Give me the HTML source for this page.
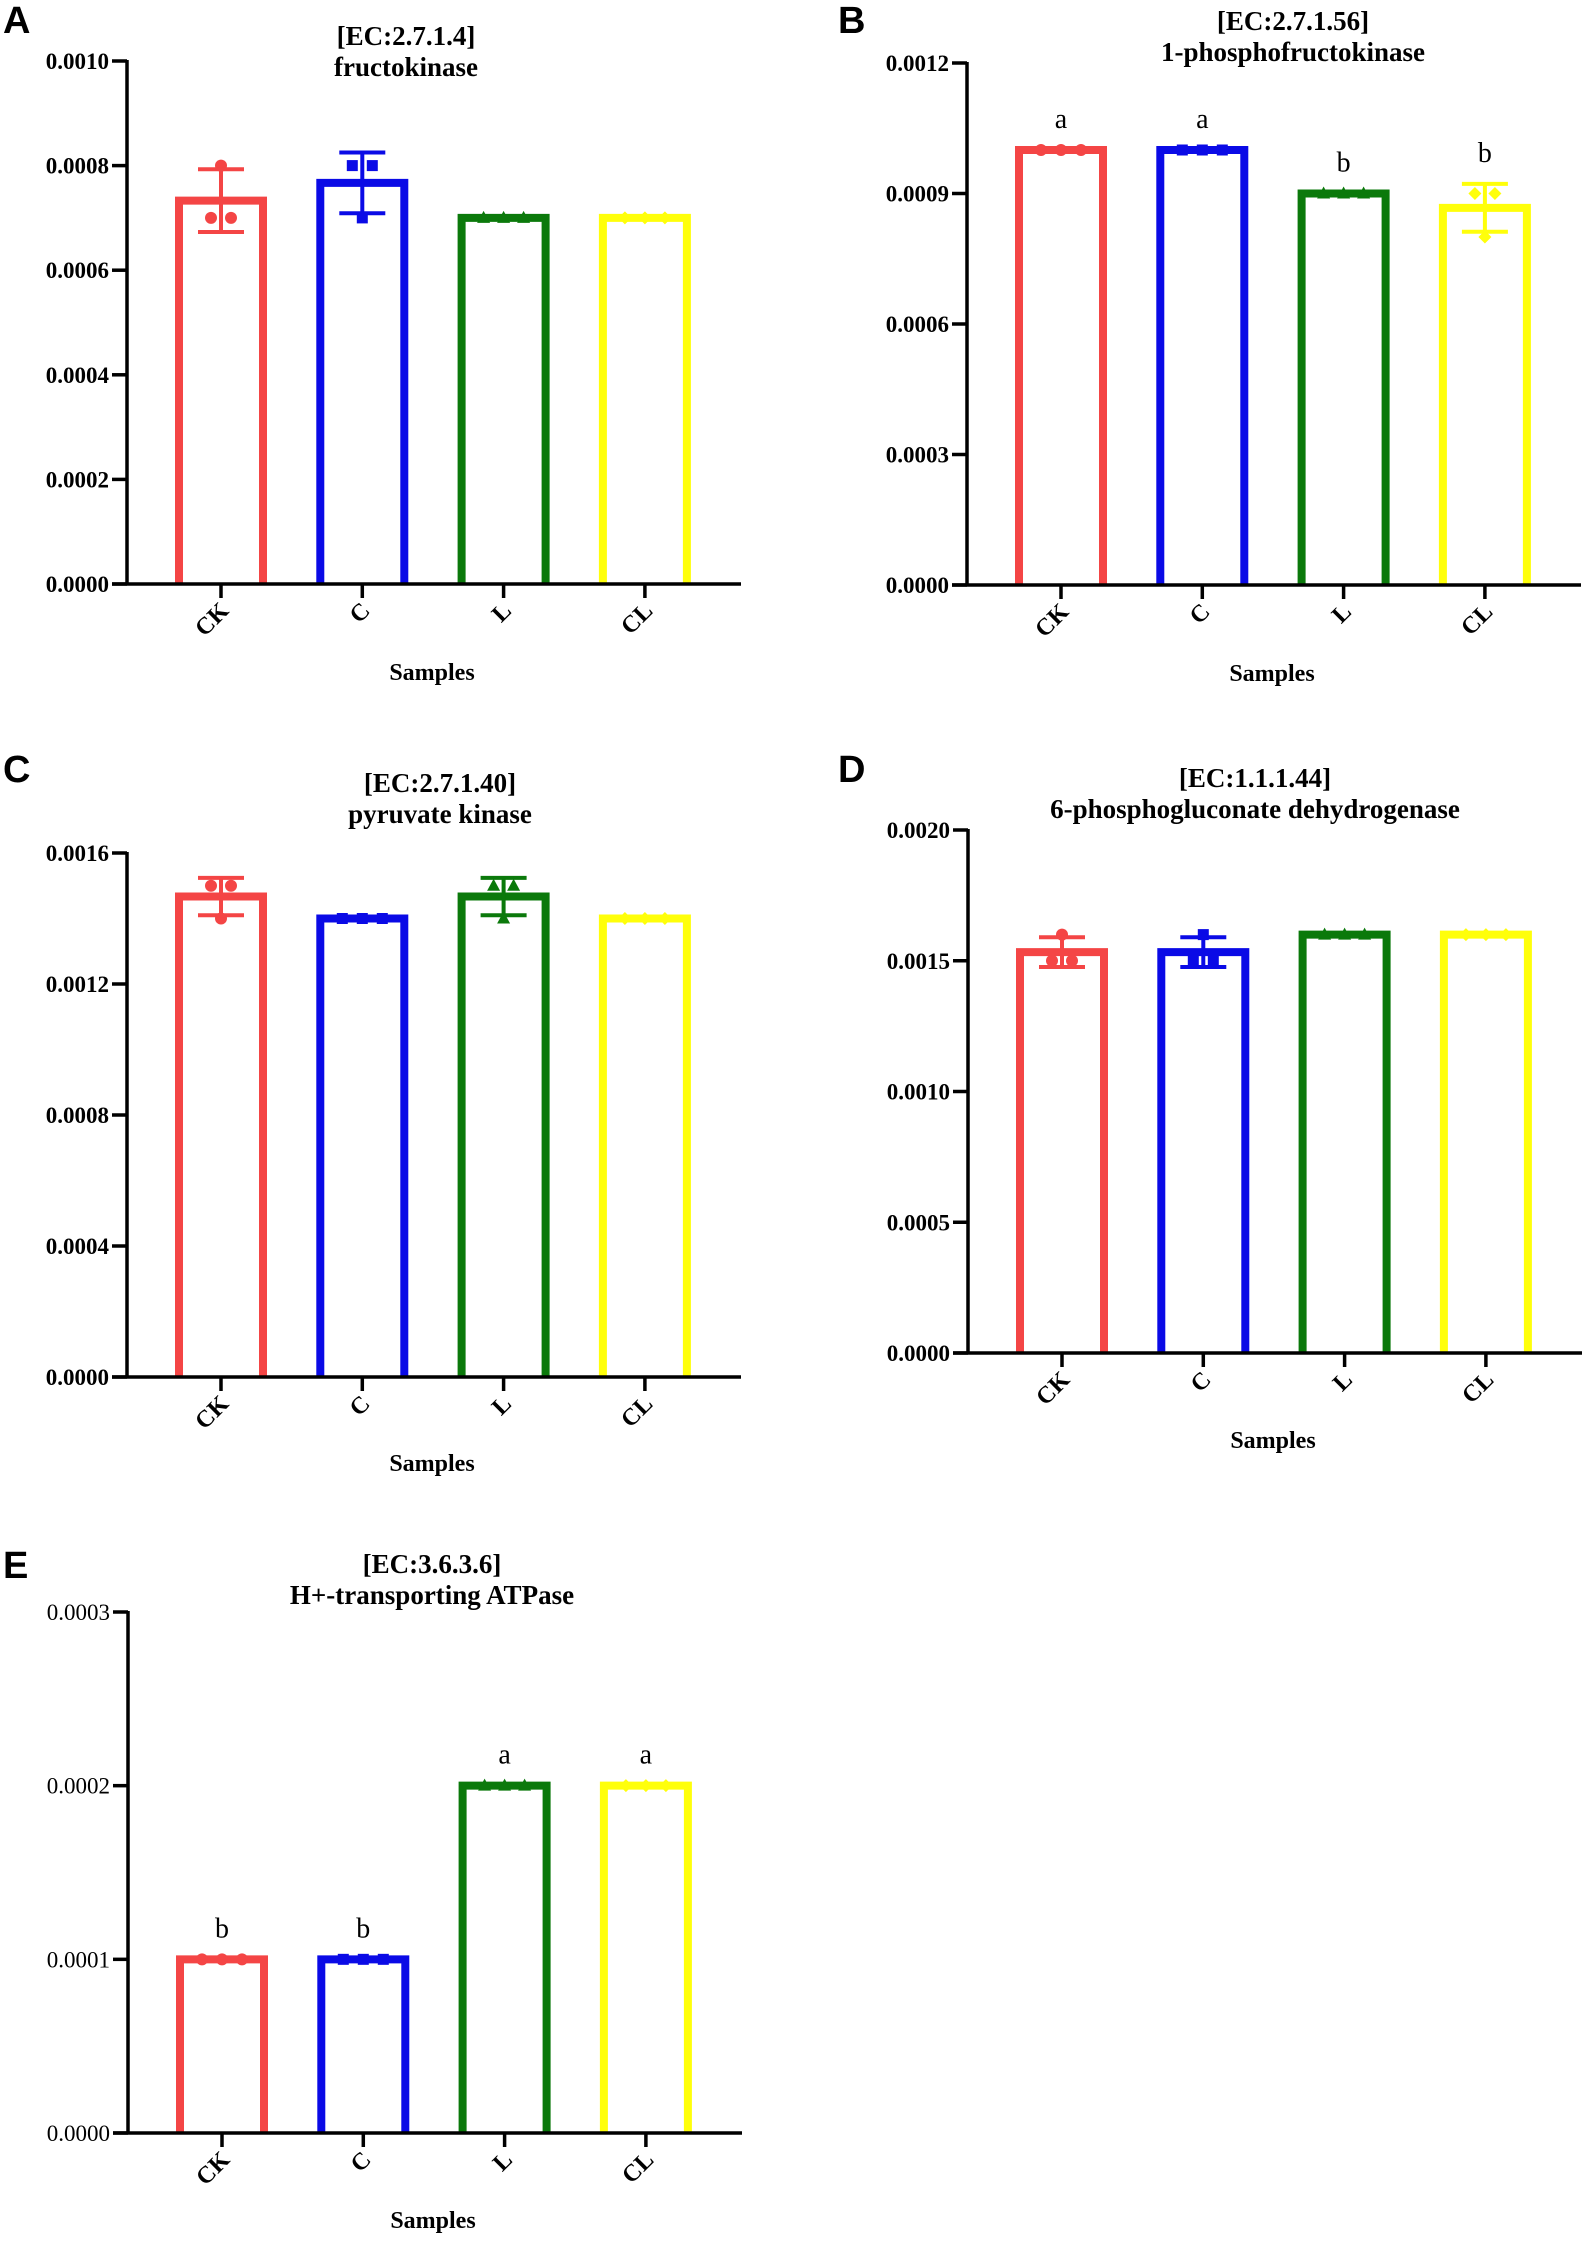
<!DOCTYPE html>
<html><head><meta charset="utf-8"><style>
html,body{margin:0;padding:0;background:#fff;}
svg{display:block;}
.tl{font-family:"Liberation Serif",serif;font-size:23px;}
.tt{font-family:"Liberation Serif",serif;font-weight:bold;font-size:27px;}
.xl{font-family:"Liberation Serif",serif;font-weight:bold;font-size:24px;}
.pl{font-family:"Liberation Sans",Arial,sans-serif;font-weight:bold;font-size:38px;}
.sg{font-family:"Liberation Serif",serif;font-size:28px;}
</style></head><body>
<svg id="fig" width="1594" height="2244" viewBox="0 0 1594 2244" xmlns="http://www.w3.org/2000/svg"></svg>
<script>
const categories = ["CK","C","L","CL"];
const colors = ["#f44545","#0a0ae6","#0b790b","#ffff0a"];
// Panel A
const aMeans = [0.000733,0.000767,0.0007,0.0007];
const aErr = [0.00006,0.000058,0,0];
const aPts = [[0.0008,0.0007,0.0007],[0.0008,0.0008,0.0007],[0.0007,0.0007,0.0007],[0.0007,0.0007,0.0007]];
const aTicks = ["0.0000","0.0002","0.0004","0.0006","0.0008","0.0010"];
const aLetters = ["","","",""];
// Panel B
const bMeans = [0.001,0.001,0.0009,0.000867];
const bErr = [0,0,0,0.000055];
const bPts = [[0.001,0.001,0.001],[0.001,0.001,0.001],[0.0009,0.0009,0.0009],[0.0009,0.0009,0.0008]];
const bTicks = ["0.0000","0.0003","0.0006","0.0009","0.0012"];
const bLetters = ["a","a","b","b"];
// Panel C
const cMeans = [0.001467,0.0014,0.001467,0.0014];
const cErr = [0.000057,0,0.000057,0];
const cPts = [[0.0015,0.0015,0.0014],[0.0014,0.0014,0.0014],[0.0015,0.0015,0.0014],[0.0014,0.0014,0.0014]];
const cTicks = ["0.0000","0.0004","0.0008","0.0012","0.0016"];
const cLetters = ["","","",""];
// Panel D
const dMeans = [0.001533,0.001533,0.0016,0.0016];
const dErr = [0.000057,0.000057,0,0];
const dPts = [[0.0016,0.0015,0.0015],[0.0016,0.0015,0.0015],[0.0016,0.0016,0.0016],[0.0016,0.0016,0.0016]];
const dTicks = ["0.0000","0.0005","0.0010","0.0015","0.0020"];
const dLetters = ["","","",""];
// Panel E
const eMeans = [0.0001,0.0001,0.0002,0.0002];
const eErr = [0,0,0,0];
const ePts = [[0.0001,0.0001,0.0001],[0.0001,0.0001,0.0001],[0.0002,0.0002,0.0002],[0.0002,0.0002,0.0002]];
const eTicks = ["0.0000","0.0001","0.0002","0.0003"];
const eLetters = ["b","b","a","a"];

const NS="http://www.w3.org/2000/svg";
const fig=document.getElementById('fig');
function mk(tag,attrs,parent,text){const e=document.createElementNS(NS,tag);for(const k in attrs)e.setAttribute(k,attrs[k]);if(text!==undefined)e.textContent=text;parent.appendChild(e);return e;}

function panel(cfg){
  const g=mk('g',{},fig);
  
  
  const ax=cfg.ax, y0=cfg.y0, yt=cfg.yt, xEnd=ax+614;
  const maxV=parseFloat(cfg.ticks[cfg.ticks.length-1]);
  const Y=v=>y0-(v/maxV)*(y0-yt);
  const X=i=>ax+94+i*141.3;
  const pl=mk('text',{x:cfg.lx,y:cfg.ly,class:'pl'},g,cfg.id);
  
  
  const t1=mk('text',{x:cfg.tx,y:cfg.ty,class:'tt','text-anchor':'middle'},g,cfg.t1);
  
  
  const t2=mk('text',{x:cfg.tx,y:cfg.ty+31,class:'tt','text-anchor':'middle'},g,cfg.t2);
  
  
  cfg.means.forEach((m,i)=>{
    const cx=X(i), top=Y(m);
    const b=mk('path',{d:`M${cx-42} ${y0} L${cx-42} ${top} L${cx+42} ${top} L${cx+42} ${y0}`,fill:'#fff',stroke:colors[i],'stroke-width':8},g);
    
    
    const pts=cfg.pts[i];
    const groups={};pts.forEach(v=>{groups[v]=(groups[v]||0)+1;});
    const seen={};
    pts.forEach(v=>{
      const n=groups[v];const k=seen[v]||0;seen[v]=k+1;
      const px=cx+(k-(n-1)/2)*20, py=Y(v);
      let p;
      if(i===0)p=mk('circle',{cx:px,cy:py,r:6,fill:colors[i]},g);
      else if(i===1)p=mk('rect',{x:px-5.5,y:py-5.5,width:11,height:11,fill:colors[i]},g);
      else if(i===2)p=mk('path',{d:`M${px} ${py-7} L${px+6.5} ${py+5} L${px-6.5} ${py+5}Z`,fill:colors[i]},g);
      else p=mk('path',{d:`M${px} ${py-6.5} L${px+6.5} ${py} L${px} ${py+6.5} L${px-6.5} ${py}Z`,fill:colors[i]},g);
      
      
    });
    const e=cfg.err[i];
    if(e>0){
      const eb=mk('path',{d:`M${cx} ${Y(m+e)} L${cx} ${Y(m-e)} M${cx-23} ${Y(m+e)} L${cx+23} ${Y(m+e)} M${cx-23} ${Y(m-e)} L${cx+23} ${Y(m-e)}`,stroke:colors[i],'stroke-width':4,fill:'none'},g);
      
      
    }
    if(cfg.letters[i]){
      const ly=Y(m+e)-22;
      const s=mk('text',{x:cx,y:ly,class:'sg','text-anchor':'middle'},g,cfg.letters[i]);
      
      
    }
    const xt=mk('line',{x1:cx,y1:y0,x2:cx,y2:y0+14,stroke:'#000','stroke-width':3.5},g);
    
    
    const xl=mk('text',{x:0,y:0,class:'xl','text-anchor':'end',transform:`translate(${cx+9},${y0+28}) rotate(-45)`},g,categories[i]);
    
    
  });
  const ya=mk('line',{x1:ax,y1:yt-1,x2:ax,y2:y0+1.5,stroke:'#000','stroke-width':3.5},g);
  
  
  const xa=mk('line',{x1:ax-15,y1:y0,x2:xEnd,y2:y0,stroke:'#000','stroke-width':3.5},g);
  
  
  cfg.ticks.forEach(t=>{
    const yy=Y(parseFloat(t));
    const tk=mk('line',{x1:ax-15,y1:yy,x2:ax,y2:yy,stroke:'#000','stroke-width':3.5},g);
    
    
    const tl=mk('text',{x:ax-18,y:yy+8,class:'tl','text-anchor':'end','font-weight':cfg.bold?'bold':'normal'},g,t);
    
    
  });
  const xt=mk('text',{x:ax+305,y:cfg.sy,class:'xl','text-anchor':'middle','font-size':'22'},g,'Samples');
  
  
}
panel({id:'A',ax:127,y0:584,yt:61,ticks:aTicks,means:aMeans,err:aErr,pts:aPts,letters:aLetters,lx:3,ly:33,tx:406,ty:45,t1:'[EC:2.7.1.4]',t2:'fructokinase',sy:680,bold:true});
panel({id:'B',ax:967,y0:585,yt:63,ticks:bTicks,means:bMeans,err:bErr,pts:bPts,letters:bLetters,lx:838,ly:33,tx:1293,ty:30,t1:'[EC:2.7.1.56]',t2:'1-phosphofructokinase',sy:681,bold:true});
panel({id:'C',ax:127,y0:1377,yt:853,ticks:cTicks,means:cMeans,err:cErr,pts:cPts,letters:cLetters,lx:3,ly:782,tx:440,ty:792,t1:'[EC:2.7.1.40]',t2:'pyruvate kinase',sy:1471,bold:true});
panel({id:'D',ax:968,y0:1353,yt:830,ticks:dTicks,means:dMeans,err:dErr,pts:dPts,letters:dLetters,lx:838,ly:782,tx:1255,ty:787,t1:'[EC:1.1.1.44]',t2:'6-phosphogluconate dehydrogenase',sy:1448,bold:true});
panel({id:'E',ax:128,y0:2133,yt:1612,ticks:eTicks,means:eMeans,err:eErr,pts:ePts,letters:eLetters,lx:3,ly:1578,tx:432,ty:1573,t1:'[EC:3.6.3.6]',t2:'H+-transporting ATPase',sy:2228,bold:false});
</script>
</body></html>
